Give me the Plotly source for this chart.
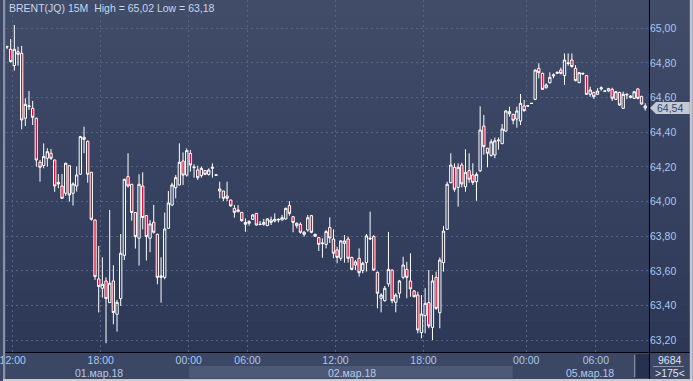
import plotly.graph_objects as go

# ---------------- data (15-minute candles) ----------------
opens = [64.892, 64.879, 64.785, 64.865, 64.856, 64.481, 64.548, 64.538, 64.481, 64.227,
         64.208, 64.250, 64.279, 64.240, 64.111, 64.090, 64.048, 64.207, 64.048, 64.090,
         64.158, 64.371, 64.348, 64.169, 63.894, 63.554, 63.500, 63.542, 63.417, 63.542,
         63.350, 63.440, 63.690, 64.144, 64.100, 63.937, 63.789, 64.090, 63.919, 63.789,
         63.881, 63.812, 63.563, 63.563, 63.846, 63.980, 64.080, 64.096, 64.234, 64.153,
         64.278, 64.196, 64.182, 64.150, 64.179, 64.157, 64.192, 64.152, 64.061, 64.061,
         64.032, 64.009, 63.961, 63.942, 63.938, 63.880, 63.875, 63.898, 63.932, 63.867,
         63.869, 63.861, 63.894, 63.888, 63.894, 63.894, 63.900, 63.977, 63.913, 63.861,
         63.869, 63.811, 63.836, 63.919, 63.811, 63.792, 63.757, 63.753, 63.851, 63.784,
         63.721, 63.673, 63.759, 63.784, 63.678, 63.634, 63.673, 63.602, 63.648, 63.784,
         63.798, 63.592, 63.442, 63.428, 63.525, 63.605, 63.419, 63.471, 63.563, 63.609,
         63.542, 63.484, 63.461, 63.244, 63.342, 63.417, 63.274, 63.563, 63.359, 63.648,
         63.840, 64.109, 64.198, 64.082, 64.211, 64.086, 64.179, 64.154, 64.115, 64.178,
         64.436, 64.308, 64.267, 64.269, 64.350, 64.334, 64.407, 64.507, 64.503, 64.477,
         64.465, 64.552, 64.551, 64.566, 64.590, 64.769, 64.740, 64.657, 64.686, 64.725,
         64.740, 64.759, 64.727, 64.797, 64.817, 64.769, 64.686, 64.736, 64.727, 64.619,
         64.630, 64.619, 64.650, 64.636, 64.652, 64.648, 64.590, 64.630, 64.538, 64.615,
         64.600, 64.596, 64.650, 64.607, 64.552]
highs = [64.900, 64.938, 65.019, 64.894, 64.898, 64.596, 64.638, 64.581, 64.483, 64.240,
         64.336, 64.308, 64.304, 64.242, 64.159, 64.159, 64.225, 64.210, 64.111, 64.202,
         64.379, 64.432, 64.352, 64.170, 63.896, 63.744, 63.679, 63.563, 63.952, 63.633,
         63.433, 63.813, 64.131, 64.279, 64.102, 63.939, 64.158, 64.169, 63.921, 63.894,
         63.981, 63.814, 63.679, 63.937, 64.061, 64.109, 64.153, 64.336, 64.284, 64.307,
         64.298, 64.215, 64.207, 64.202, 64.183, 64.192, 64.221, 64.154, 64.115, 64.062,
         64.115, 64.011, 63.980, 63.980, 63.940, 63.903, 63.893, 63.927, 63.934, 63.888,
         63.900, 63.904, 63.913, 63.932, 63.904, 63.923, 63.965, 64.003, 63.915, 63.880,
         63.880, 63.831, 63.923, 63.923, 63.815, 63.796, 63.788, 63.836, 63.909, 63.840,
         63.740, 63.778, 63.807, 63.798, 63.682, 63.663, 63.730, 63.653, 63.813, 63.942,
         63.807, 63.596, 63.471, 63.513, 63.825, 63.609, 63.471, 63.548, 63.682, 63.653,
         63.702, 63.490, 63.480, 63.461, 63.500, 63.605, 63.577, 63.596, 63.678, 63.859,
         64.115, 64.279, 64.221, 64.221, 64.225, 64.302, 64.279, 64.221, 64.169, 64.550,
         64.500, 64.310, 64.360, 64.370, 64.370, 64.448, 64.527, 64.548, 64.507, 64.548,
         64.621, 64.586, 64.554, 64.568, 64.763, 64.798, 64.744, 64.682, 64.746, 64.740,
         64.750, 64.773, 64.855, 64.855, 64.855, 64.788, 64.746, 64.744, 64.730, 64.663,
         64.634, 64.654, 64.665, 64.642, 64.656, 64.657, 64.638, 64.634, 64.634, 64.625,
         64.615, 64.638, 64.654, 64.611, 64.567]
lows = [64.880, 64.802, 64.756, 64.785, 64.417, 64.436, 64.529, 64.442, 64.202, 64.115,
        64.192, 64.202, 64.240, 64.057, 64.077, 64.015, 64.033, 64.000, 63.977, 64.058,
        64.154, 64.279, 64.109, 63.890, 63.548, 63.360, 63.446, 63.183, 63.415, 63.292,
        63.250, 63.398, 63.663, 64.081, 63.890, 63.729, 63.631, 63.840, 63.660, 63.708,
        63.815, 63.523, 63.417, 63.552, 63.844, 63.975, 64.019, 64.094, 64.096, 64.144,
        64.173, 64.138, 64.125, 64.138, 64.153, 64.150, 64.138, 64.152, 64.019, 64.003,
        64.003, 63.971, 63.907, 63.938, 63.884, 63.826, 63.861, 63.894, 63.861, 63.865,
        63.861, 63.859, 63.865, 63.880, 63.880, 63.892, 63.896, 63.919, 63.823, 63.846,
        63.815, 63.798, 63.826, 63.817, 63.796, 63.715, 63.676, 63.730, 63.761, 63.673,
        63.644, 63.659, 63.648, 63.648, 63.605, 63.605, 63.567, 63.586, 63.596, 63.778,
        63.600, 63.384, 63.361, 63.423, 63.509, 63.413, 63.361, 63.442, 63.552, 63.442,
        63.451, 63.448, 63.240, 63.211, 63.240, 63.269, 63.201, 63.375, 63.269, 63.596,
        63.836, 64.105, 64.057, 63.971, 64.082, 64.057, 64.109, 64.096, 64.005, 64.170,
        64.270, 64.198, 64.260, 64.250, 64.300, 64.334, 64.403, 64.490, 64.446, 64.427,
        64.442, 64.519, 64.549, 64.565, 64.586, 64.711, 64.644, 64.653, 64.682, 64.711,
        64.738, 64.734, 64.673, 64.784, 64.773, 64.694, 64.684, 64.731, 64.615, 64.605,
        64.592, 64.615, 64.640, 64.632, 64.634, 64.580, 64.586, 64.553, 64.536, 64.592,
        64.596, 64.592, 64.590, 64.559, 64.525]
closes = [64.894, 64.808, 64.879, 64.850, 64.471, 64.561, 64.552, 64.486, 64.240, 64.198,
          64.260, 64.288, 64.250, 64.090, 64.102, 64.019, 64.221, 64.038, 64.102, 64.154,
          64.375, 64.359, 64.158, 63.898, 63.567, 63.510, 63.523, 63.440, 63.529, 63.360,
          63.419, 63.702, 64.129, 64.090, 63.937, 63.798, 64.100, 63.908, 63.798, 63.871,
          63.823, 63.563, 63.571, 63.842, 63.992, 64.096, 64.138, 64.227, 64.153, 64.294,
          64.211, 64.199, 64.138, 64.192, 64.157, 64.182, 64.198, 64.154, 64.073, 64.019,
          64.019, 63.975, 63.938, 63.952, 63.890, 63.869, 63.884, 63.923, 63.865, 63.869,
          63.880, 63.900, 63.880, 63.898, 63.897, 63.907, 63.961, 63.932, 63.880, 63.875,
          63.823, 63.823, 63.907, 63.823, 63.800, 63.753, 63.761, 63.827, 63.790, 63.702,
          63.678, 63.773, 63.773, 63.673, 63.609, 63.652, 63.590, 63.644, 63.802, 63.788,
          63.605, 63.471, 63.461, 63.500, 63.609, 63.428, 63.461, 63.542, 63.634, 63.563,
          63.496, 63.451, 63.259, 63.351, 63.413, 63.282, 63.542, 63.384, 63.663, 63.830,
          64.100, 64.211, 64.071, 64.198, 64.102, 64.169, 64.129, 64.111, 64.157, 64.413,
          64.317, 64.279, 64.345, 64.351, 64.355, 64.419, 64.523, 64.519, 64.469, 64.523,
          64.567, 64.525, 64.553, 64.567, 64.759, 64.744, 64.648, 64.673, 64.717, 64.731,
          64.746, 64.740, 64.817, 64.800, 64.779, 64.698, 64.744, 64.740, 64.619, 64.644,
          64.605, 64.638, 64.657, 64.638, 64.638, 64.596, 64.634, 64.557, 64.619, 64.619,
          64.609, 64.634, 64.596, 64.563, 64.540]

# candle index of each time label on the axis
tick_idx = [1, 25, 49, 65, 89, 113, 141, 160]
tick_labels = ["12:00", "18:00", "00:00", "06:00", "12:00", "18:00", "00:00", "06:00"]
date_idx = [25, 94, 159]
date_labels = ["01.мар.18", "02.мар.18", "05.мар.18"]
title_text = "BRENT(JQ) 15M  High = 65,02 Low = 63,18"
bars_total = "9684"
bars_visible = ">175<"

# ---------------- layout geometry ----------------
W, H = 693, 381
ML, MR, MT, MB = 3, 44, 0, 29
PW = W - ML - MR
PH = H - MT - MB


def px(x):
    return (x - ML) / PW


def py(y):
    return (H - MB - y) / PH


FONT = "Liberation Sans"
FS = 10.5
x = list(range(len(opens)))

fig = go.Figure(go.Candlestick(
    x=x, open=opens, high=highs, low=lows, close=closes,
    increasing=dict(line=dict(color="#ffffff", width=1), fillcolor="rgba(0,0,0,0)"),
    decreasing=dict(line=dict(color="#ffffff", width=1), fillcolor="#e60a36"),
    whiskerwidth=0, hoverinfo="skip", showlegend=False))

shapes = []
# background gradient bands (plot + price scale)
NB = 22
top = (64, 76, 104)
bot = (44, 56, 86)
for k in range(NB):
    t = k / (NB - 1)
    c = tuple(round(top[j] + (bot[j] - top[j]) * t) for j in range(3))
    y0 = 352.5 * k / NB
    y1 = 352.5 * (k + 1) / NB
    shapes.append(dict(type="rect", xref="paper", yref="paper", layer="below",
                       x0=px(0), x1=px(690), y0=py(y1), y1=py(y0),
                       fillcolor="rgb(%d,%d,%d)" % c, line=dict(width=0)))
# bottom strip
shapes.append(dict(type="rect", xref="paper", yref="paper", layer="below",
                   x0=px(0), x1=px(690), y0=py(379), y1=py(352.5),
                   fillcolor="#3c4765", line=dict(width=0)))
shapes.append(dict(type="rect", xref="paper", yref="paper", layer="below",
                   x0=px(187), x1=px(512), y0=py(378), y1=py(366),
                   fillcolor="#4d5977", line=dict(width=0)))
shapes.append(dict(type="rect", xref="paper", yref="paper", layer="below",
                   x0=px(636), x1=px(649), y0=py(378), y1=py(354),
                   fillcolor="#27314d", line=dict(width=0)))
shapes.append(dict(type="line", xref="paper", yref="paper", layer="above",
                   x0=px(634.5), x1=px(634.5), y0=py(377), y1=py(355),
                   line=dict(color="#8891a4", width=1)))
shapes.append(dict(type="line", xref="paper", yref="paper", layer="above",
                   x0=px(653), x1=px(684), y0=py(366.5), y1=py(366.5),
                   line=dict(color="#8f97a8", width=1)))
# black axis lines
shapes.append(dict(type="line", xref="paper", yref="paper", layer="above",
                   x0=px(649.5), x1=px(649.5), y0=py(379), y1=py(0),
                   line=dict(color="#000000", width=1)))
shapes.append(dict(type="line", xref="paper", yref="paper", layer="above",
                   x0=px(0), x1=px(690), y0=py(352.5), y1=py(352.5),
                   line=dict(color="#000000", width=1)))
# frame
shapes.append(dict(type="rect", xref="paper", yref="paper", layer="above",
                   x0=px(0), x1=px(2.2), y0=py(381), y1=py(0),
                   fillcolor="#8a94a8", line=dict(width=0)))
shapes.append(dict(type="rect", xref="paper", yref="paper", layer="above",
                   x0=px(690), x1=px(693), y0=py(381), y1=py(0),
                   fillcolor="#c3c7cf", line=dict(width=0)))
shapes.append(dict(type="rect", xref="paper", yref="paper", layer="above",
                   x0=px(0), x1=px(693), y0=py(381), y1=py(379),
                   fillcolor="#c8ccd4", line=dict(width=0)))
# last price tag
last = closes[-1]
hh = 6 / 173.3
path = "M %f,%f L %f,%f L %f,%f L %f,%f L %f,%f Z" % (
    px(650), last, px(656), last + hh, px(690), last + hh, px(690), last - hh, px(656), last - hh)
shapes.append(dict(type="path", xref="paper", yref="y", layer="above", path=path,
                   fillcolor="#c3c8d1", line=dict(width=0)))

annotations = [
    dict(text=title_text, xref="paper", yref="paper", x=px(4), y=py(8),
         xanchor="left", yanchor="middle", showarrow=False,
         font=dict(family=FONT, size=FS, color="#c8d6ec")),
    dict(text=("%.2f" % last).replace(".", ","), xref="paper", yref="y", x=px(655), y=last,
         xanchor="left", yanchor="middle", showarrow=False,
         font=dict(family=FONT, size=FS, color="#284878")),
    dict(text=bars_total, xref="paper", yref="paper", x=px(670), y=py(359.5),
         xanchor="center", yanchor="middle", showarrow=False,
         font=dict(family=FONT, size=FS, color="#dde4f0")),
    dict(text=bars_visible, xref="paper", yref="paper", x=px(670), y=py(372.5),
         xanchor="center", yanchor="middle", showarrow=False,
         font=dict(family=FONT, size=FS, color="#dde4f0")),
]
for di, dl in zip(date_idx, date_labels):
    annotations.append(dict(text=dl, xref="x", yref="paper", x=di, y=py(372.5),
                            xanchor="center", yanchor="middle", showarrow=False,
                            font=dict(family=FONT, size=FS, color="#b6c9e6")))

x_lo = (ML - 4) / 3.685
x_hi = (649 - 4) / 3.685
y_top = 65 + 28.3 / 173.3
y_bot = 65 - (352 - 28.3) / 173.3

fig.update_layout(
    width=W, height=H,
    margin=dict(l=ML, r=MR, t=MT, b=MB, pad=0),
    paper_bgcolor="#3c4765", plot_bgcolor="rgba(0,0,0,0)",
    separators=", ",
    boxgap=0.2, boxgroupgap=0.2,
    shapes=shapes, annotations=annotations,
    xaxis=dict(range=[x_lo, x_hi], tickmode="array",
               tickvals=[i + 0.55 for i in tick_idx], ticktext=tick_labels,
               ticks="", showline=False, zeroline=False,
               showgrid=True, gridcolor="#56627f", griddash="2px,3px", gridwidth=1,
               tickfont=dict(family=FONT, size=FS, color="#a9c7ee"),
               ticklabeloverflow="allow", rangeslider=dict(visible=False),
               fixedrange=True),
    yaxis=dict(range=[y_bot, y_top], side="right", tickmode="linear",
               tick0=63.2, dtick=0.2, tickformat=".2f", ticks="",
               showline=False, zeroline=False,
               showgrid=True, gridcolor="#56627f", griddash="2px,3px", gridwidth=1,
               tickfont=dict(family=FONT, size=FS, color="#a9c7ee"),
               ticklabeloverflow="allow", fixedrange=True),
    showlegend=False,
)

fig.write_html("out.html")
